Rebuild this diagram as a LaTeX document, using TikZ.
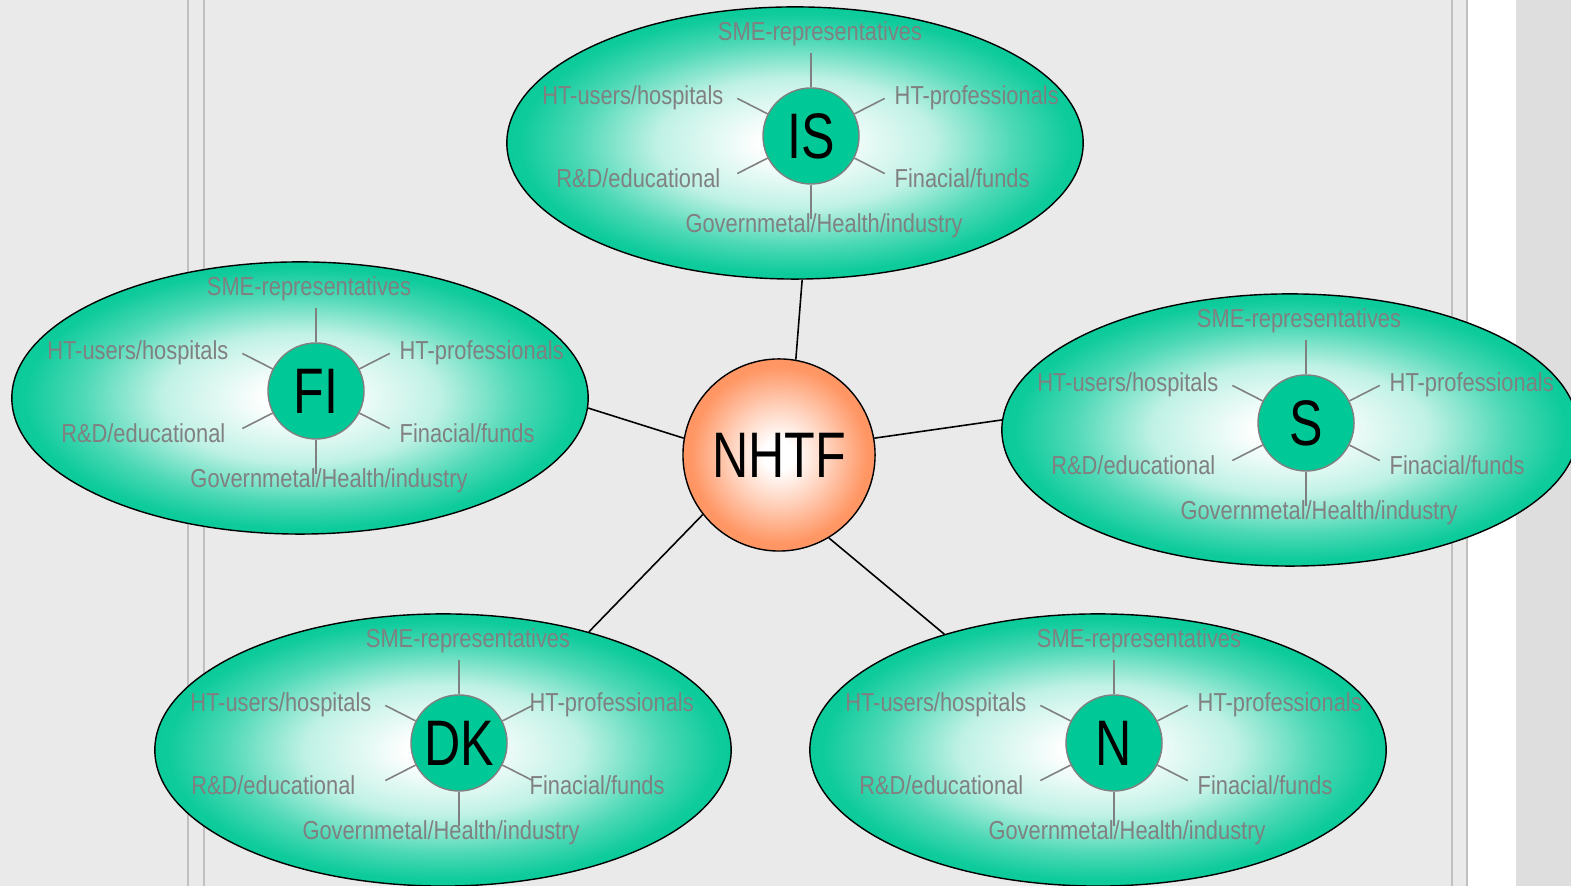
\documentclass[tikz,border=0pt]{standalone}
\usepackage{fontspec}
\setmainfont{Liberation Sans}[FakeStretch=0.84]
\newfontfamily\bigfont{Liberation Sans}[FakeStretch=0.78]
\usetikzlibrary{positioning,shapes.geometric}

\definecolor{mint}{RGB}{0,200,150}
\definecolor{peach}{RGB}{255,150,100}
\definecolor{panel}{RGB}{234,234,234}
\definecolor{rim}{RGB}{192,192,192}
\definecolor{margin}{RGB}{222,222,222}
\definecolor{labelgrey}{RGB}{128,128,128}

\pgfdeclareradialshading{mintglow}{\pgfpoint{0bp}{0bp}}{color(0bp)=(white); color(3bp)=(white); color(12bp)=(mint!25!white); color(19bp)=(mint!70!white); color(24bp)=(mint!95!white); color(50bp)=(mint)}
\pgfdeclareradialshading{peachglow}{\pgfpoint{0bp}{0bp}}{color(0bp)=(white); color(4bp)=(white); color(13bp)=(peach!45!white); color(23bp)=(peach); color(50bp)=(peach)}

\begin{document}
\begin{tikzpicture}[%
        x=0.01cm, y=0.01cm,
        every node/.style={inner sep=0pt},
        cluster/.style={ellipse, draw, line width=0.4pt, shade, shading=mintglow,
                        minimum width=5.76cm, minimum height=2.72cm},
        country/.style={circle, draw=labelgrey, line width=0.4pt, fill=mint, minimum size=0.96cm,
                        font={\bigfont\fontsize{18.3}{20}\selectfont}},
        hub/.style={circle, draw, line width=0.4pt, shade, shading=peachglow, minimum size=1.92cm,
                    font={\bigfont\fontsize{18.3}{20}\selectfont}},
        member/.style={text=labelgrey, font={\fontsize{7.4}{8}\selectfont}},
        spoke/.style={draw=labelgrey, line width=0.45pt},
        link/.style={draw, line width=0.45pt}
      ]
      \useasboundingbox (0,0) rectangle (1571,886);
      % page background
      \fill[margin] (0,0) rectangle (1571,886);
      \fill[white] (0,0) rectangle (1516,886);
      \fill[panel] (0,0) rectangle (1468,886);
      \foreach \x in {188,204,1452,1467}
        \draw[rim, line width=0.6pt] (\x,0) -- (\x,886);

      % national groups
      \foreach \nm/\ctry/\cx/\cy/\sx/\gx/\rx/\dx in {is/IS/811/750/9/13/83/-90,
          fi/FI/316/495/-7/13/83/-90, s/S/1306/463/-7/13/83/-90,
          dk/DK/459/143/9/-18/70/-103, n/N/1114/143/25/13/83/-90} {
        \node [cluster] (\nm-oval) at (\cx-16,\cy-7) {};
        \node [country] (\nm) at (\cx,\cy) {\ctry};
        \foreach \a in {90,153,207,270,333,27}
          \draw[spoke] (\nm.\a) -- ++(\a:34);
        \begin{scope}[shift={(\cx,\cy)}]
          \node [member] (\nm-sme) at (\sx,102) {SME-representatives};
          \node [member, anchor=east] (\nm-users) at (-87,38) {HT-users/hospitals};
          \node [member, anchor=west] (\nm-prof) at (\rx,38) {HT-professionals};
          \node [member, anchor=east] (\nm-rd) at (\dx,-42) {R\&D/educational};
          \node [member, anchor=west] (\nm-fund) at (\rx,-42) {Finacial/funds};
          \node [member] (\nm-gov) at (\gx,-90) {Governmetal/Health/industry};
        \end{scope}
      }

      \node [hub] (nhtf) at (779,431) {NHTF};
      \path [link] (nhtf.80) -- (is-oval.-87)
      (nhtf.170) -- (fi-oval.-2)
      (nhtf.10) -- (s-oval.178)
      (nhtf.218) -- (dk-oval.39)
      (nhtf.-59) -- (n-oval.143);
    \end{tikzpicture}
\end{document}
